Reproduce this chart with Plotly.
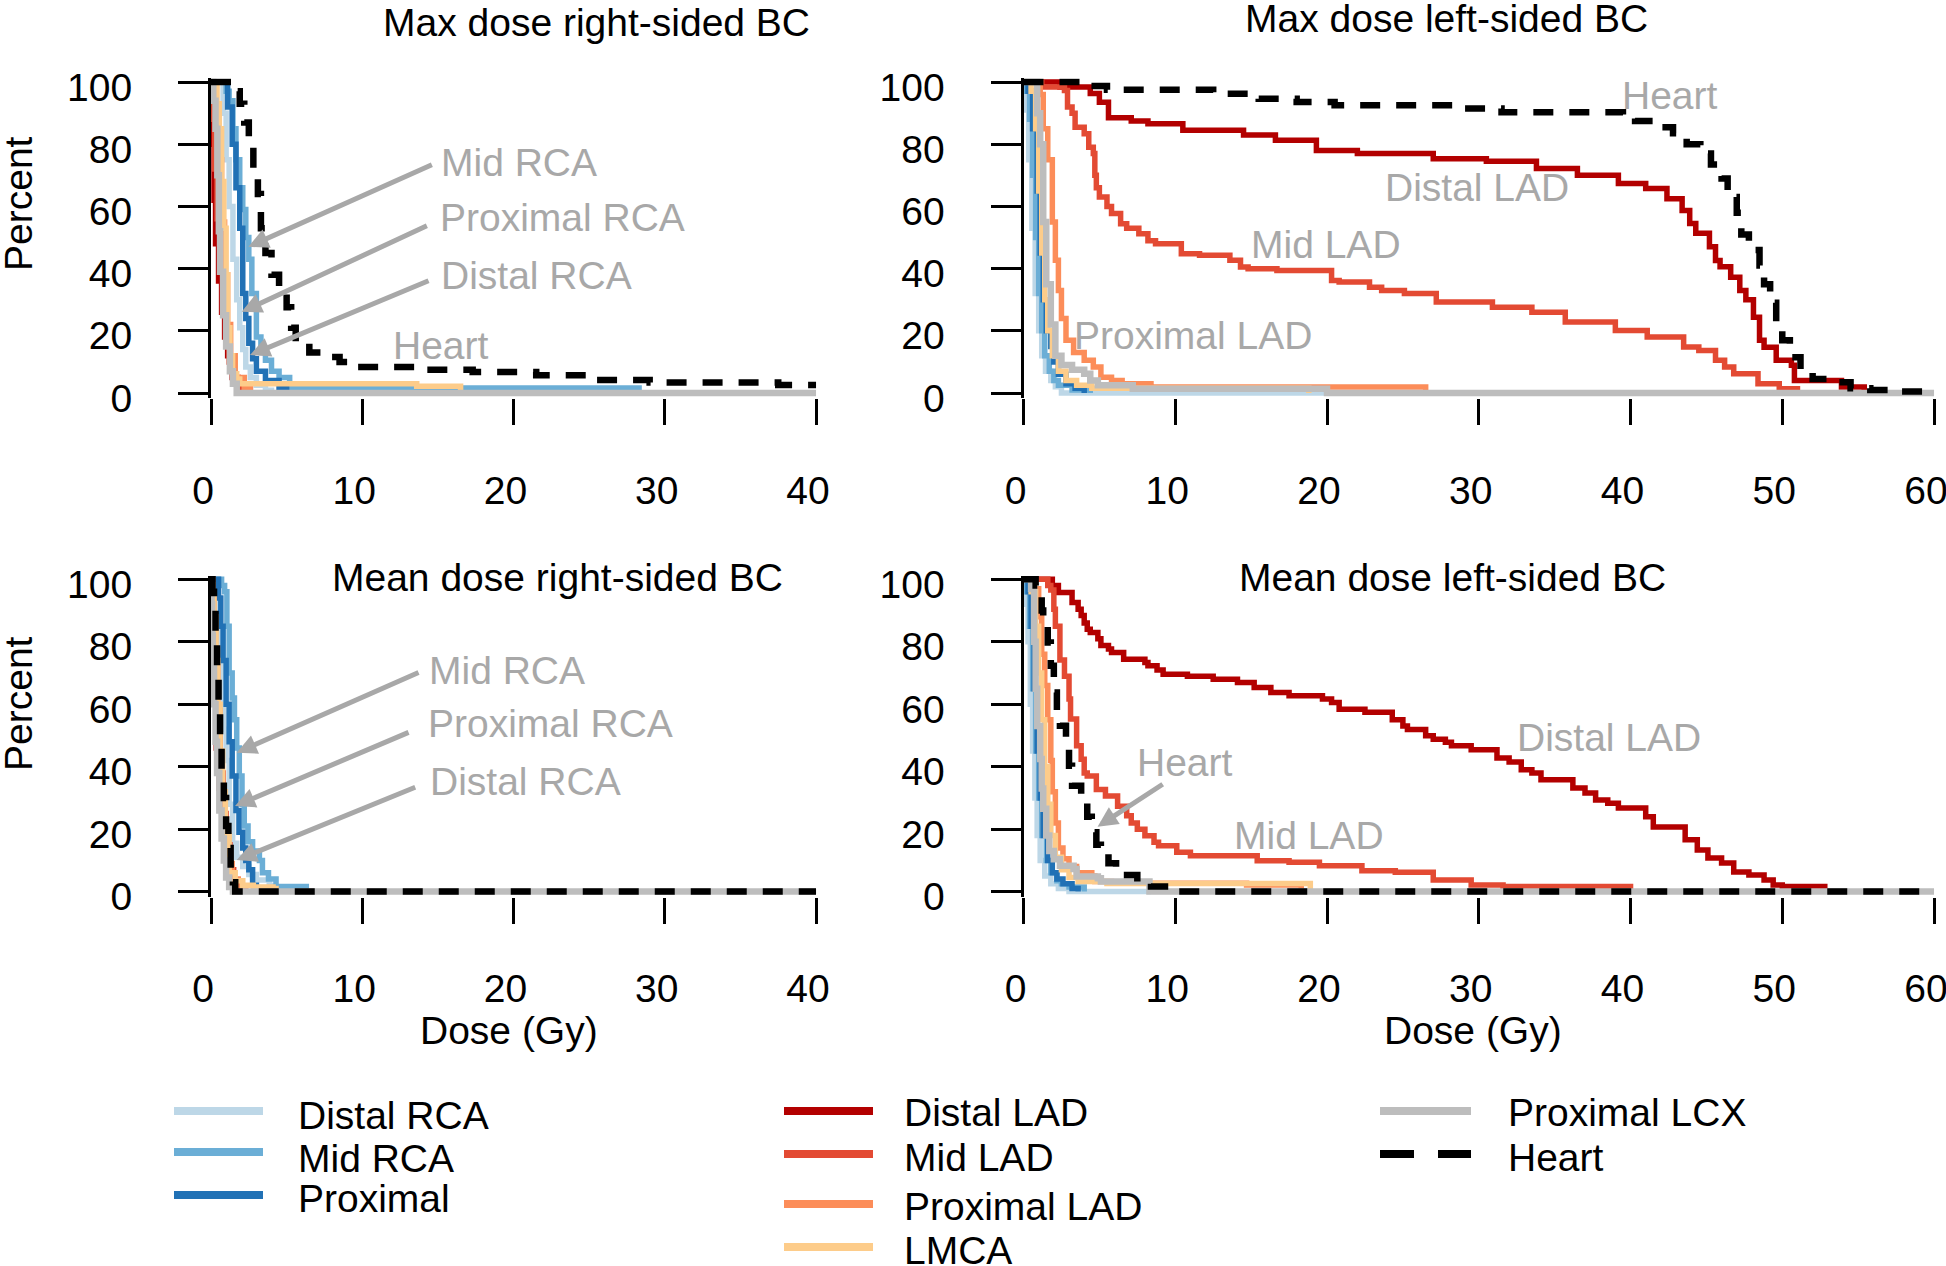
import plotly.graph_objects as go

# ---------------- data ----------------
SERIES = ["Distal RCA", "Mid RCA", "Proximal", "Distal LAD", "Mid LAD",
          "Proximal LAD", "LMCA", "Proximal LCX", "Heart"]
X_TICKS_RIGHT_BC = [0, 10, 20, 30, 40]
X_TICKS_LEFT_BC = [0, 10, 20, 30, 40, 50, 60]
Y_TICKS = [0, 20, 40, 60, 80, 100]

# --- Max dose, right-sided BC ---
maxR_distal_rca_x = [0, 0.5, 0.8, 1.0, 1.2, 1.45, 1.7, 1.9, 2.1, 2.3, 2.6, 3.0, 3.6, 4.0]
maxR_distal_rca_y = [100, 100, 90, 75, 60, 43, 30, 21, 14, 8.4, 5, 2.5, 0.9, 0]
maxR_mid_rca_x = [0, 0.7, 1.0, 1.2, 1.45, 1.65, 1.9, 2.1, 2.3, 2.5, 2.7, 3.0, 3.3, 3.6, 4.0, 4.5, 5.2, 28.3]
maxR_mid_rca_y = [100, 100, 97, 94, 85, 75, 66, 59, 50, 43, 32, 18, 13, 10.5, 7, 5, 1.6, 0]
maxR_proximal_x = [0, 0.9, 1.1, 1.4, 1.65, 1.9, 2.1, 2.3, 2.5, 2.75, 3.0, 3.6, 4.5, 5.0]
maxR_proximal_y = [100, 100, 92, 80, 66, 53, 32, 24, 16, 11, 7, 4, 1.4, 0]
maxR_distal_lad_x = [0.08, 0.12, 0.2, 0.3, 0.5, 0.7, 0.9, 1.1, 1.4, 1.8, 2.3, 2.6]
maxR_distal_lad_y = [96, 80, 62, 48, 36, 26, 18, 12, 5, 2.5, 1.4, 0]
maxR_mid_lad_x = [0, 0.1, 0.25, 0.4, 0.6, 0.8, 1.0, 1.2, 1.5, 1.9, 2.2]
maxR_mid_lad_y = [100, 88, 72, 56, 40, 28, 18, 10, 4, 1, 0]
maxR_proximal_lad_x = [0, 0.1, 0.3, 0.5, 0.7, 0.9, 1.1, 1.3, 1.6, 2.2, 2.6]
maxR_proximal_lad_y = [100, 96, 88, 75, 55, 38, 22, 12, 5, 1.5, 0]
maxR_lmca_x = [0, 0.2, 0.4, 0.55, 0.7, 0.85, 1.0, 1.1, 1.25, 1.43, 1.7, 1.9, 13.6, 16.5]
maxR_lmca_y = [100, 100, 93, 85, 68, 53, 38, 21, 12, 6.2, 4.5, 3, 2.2, 0]
maxR_prox_lcx_x = [0, 0.15, 0.3, 0.42, 0.52, 0.6, 0.8, 1.0, 1.25, 1.45, 1.7, 40]
maxR_prox_lcx_y = [100, 94, 85, 70, 52, 39, 25, 15, 7, 3, 0, 0]
maxR_heart_x = [0, 1.0, 1.4, 1.9, 2.2, 2.5, 2.8, 3.1, 3.3, 3.6, 4.0, 4.5, 5.0, 5.3, 5.6, 6.5, 7.4, 8.5,
                9.6, 13.5, 17.3, 21.5, 25, 29, 37.5, 40]
maxR_heart_y = [100, 100, 97, 93, 87, 80, 72, 64, 53, 45, 38, 33, 27.6, 21, 15.9, 13, 11.6, 10,
                8.4, 7.5, 6.8, 5.7, 4.2, 3.4, 2.6, 2.6]

# --- Max dose, left-sided BC ---
maxL_distal_rca_x = [0, 0.1, 0.2, 0.35, 0.55, 0.77, 1.0, 1.2, 1.45, 1.8, 2.1, 2.5, 20]
maxL_distal_rca_y = [100, 95, 91, 75, 53, 32, 20, 12, 7, 4, 2, 0, 0]
maxL_mid_rca_x = [0, 0.2, 0.4, 0.6, 0.8, 1.0, 1.2, 1.4, 1.7, 2.0, 2.3, 3.2, 4.4]
maxL_mid_rca_y = [100, 97, 88, 70, 50, 32, 20, 12, 7, 4, 2.5, 1, 0]
maxL_proximal_x = [0, 0.3, 0.6, 0.9, 1.1, 1.3, 1.5, 1.8, 2.0, 2.3, 2.8, 3.4, 4.0]
maxL_proximal_y = [100, 97, 85, 65, 45, 30, 20, 15, 10, 6, 3, 1.5, 0]
maxL_distal_lad_x = [0, 1.6, 2.4, 4.4, 5.0, 5.6, 7.1, 8.2, 10.5, 14.5, 16.6, 19.3, 22, 27, 30.5, 33.8,
                     36.5, 39.2, 41, 42.4, 43.4, 43.9, 44.3, 45.2, 45.6, 45.9, 46.6, 47.2, 47.6, 48.1,
                     48.5, 48.8, 49.6, 50.6, 50.8, 53.9, 55.4]
maxL_distal_lad_y = [100, 100, 98.4, 96.3, 93.5, 88.5, 87.5, 86.6, 84.5, 83, 81.3, 78, 77, 75.3, 74.5,
                     72.2, 70, 67.4, 65.8, 62.5, 58.7, 54.5, 51.4, 47, 42.6, 40.6, 37.2, 33, 30, 24.4,
                     17, 14.7, 10.5, 8.9, 4, 1.9, 0]
maxL_mid_lad_x = [0, 1.2, 2.7, 2.9, 3.2, 3.4, 4.0, 4.3, 4.6, 4.7, 4.8, 5.0, 5.5, 5.8, 6.4, 6.8, 7.6,
                  8.2, 8.7, 10.4, 11.6, 13.6, 14.3, 14.8, 16.7, 20.3, 20.8, 22.8, 23.6, 25.1, 27.2,
                  30.9, 33.5, 35.7, 39, 41.1, 43.5, 44.5, 45.6, 46.2, 46.8, 48.4, 49.8, 51]
maxL_mid_lad_y = [100, 98.4, 97.3, 92, 90, 85.5, 83.4, 79, 77, 70, 66, 63, 60, 57.7, 54.4, 53, 51.2,
                  49, 48, 44.8, 44.3, 42.7, 40.5, 40, 39.4, 36.2, 35.7, 34, 33, 32, 29.3,
                  27.6, 26, 22.8, 20.1, 18, 14.8, 13.7, 10.5, 8.4, 6.2, 3, 1.4, 0]
maxL_proximal_lad_x = [0, 0.8, 1.1, 1.3, 1.6, 1.9, 2.1, 2.3, 2.5, 2.8, 3.3, 4.0, 4.6, 5.1, 5.8, 6.5,
                       8.4, 26.5]
maxL_proximal_lad_y = [100, 100, 96, 85, 75, 55, 42.7, 33, 24, 17, 13, 10.5, 8.4, 5.1, 4, 3, 1.9, 0]
maxL_lmca_x = [0, 0.5, 0.8, 1.0, 1.2, 1.4, 1.6, 1.9, 2.3, 2.8, 3.5, 4.5, 18.8]
maxL_lmca_y = [100, 97, 85, 65, 45, 30, 20, 12, 7, 4, 2.5, 1.5, 0]
maxL_prox_lcx_x = [0, 0.6, 0.9, 1.1, 1.3, 1.5, 1.8, 2.1, 2.5, 3.2, 4.0, 4.4, 4.9, 7.2, 20, 60]
maxL_prox_lcx_y = [100, 100, 90, 80, 55, 35, 22, 12, 9, 7.5, 6.2, 4, 2.5, 1.4, 0, 0]
maxL_heart_x = [0, 4, 5.5, 12.5, 15.5, 18, 20.5, 29, 31.5, 39.5, 40.3, 41.7, 42.8, 43.7, 44.6, 45.3,
                46, 46.4, 47, 47.3, 47.8, 48.5, 48.8, 49.2, 49.6, 50, 50.5, 51.2, 52, 53.3, 54.5,
                55.8, 57.5, 60]
maxL_heart_y = [100, 98.7, 97.5, 96.2, 94.6, 93.6, 92.5, 91.5, 90.3, 89, 87.5, 85.5, 83.5, 80, 77, 73.5,
                69, 63, 58, 51, 46, 41, 35, 29, 23, 17, 11.5, 7, 4.5, 3.5, 1.5,
                1, 0.5, 0.3]

# --- Mean dose, right-sided BC ---
meanR_distal_rca_x = [0, 0.3, 0.45, 0.55, 0.7, 0.85, 1.0, 1.2, 1.43, 1.7, 2.1, 2.5, 3.0, 3.85, 4.2]
meanR_distal_rca_y = [100, 100, 88, 74, 62, 52, 42, 28, 15.5, 11, 8, 5.5, 3.7, 2, 0]
meanR_mid_rca_x = [0, 0.4, 0.7, 0.9, 1.05, 1.2, 1.4, 1.55, 1.7, 1.87, 2.05, 2.2, 2.45, 2.75, 3.2, 3.4,
                   3.8, 4.3, 6.3]
meanR_mid_rca_y = [100, 100, 98, 96, 85, 70, 62, 55, 46, 37, 28, 21, 16, 13, 10, 6,
                   4, 1.6, 0]
meanR_proximal_x = [0, 0.33, 0.5, 0.65, 0.8, 1.0, 1.2, 1.4, 1.65, 1.85, 2.1, 2.3, 2.5, 2.75, 3.0]
meanR_proximal_y = [100, 100, 94, 85, 74, 60, 48, 37, 26, 19, 14, 10, 7, 2, 0]
meanR_distal_lad_x = [0.06, 0.1, 0.2, 0.35, 0.55, 0.75, 0.95, 1.15, 1.4, 1.7, 2.0]
meanR_distal_lad_y = [86, 74, 60, 46, 33, 22, 13, 7, 3, 1, 0]
meanR_mid_lad_x = [0, 0.1, 0.25, 0.4, 0.6, 0.8, 1.0, 1.25, 1.5, 1.8]
meanR_mid_lad_y = [100, 85, 68, 52, 38, 25, 15, 7, 2, 0]
meanR_proximal_lad_x = [0, 0.1, 0.2, 0.3, 0.45, 0.6, 0.75, 0.9, 1.1, 1.4, 1.8, 2.3]
meanR_proximal_lad_y = [100, 95, 85, 72, 58, 44, 30, 18, 9, 4, 1.5, 0]
meanR_lmca_x = [0, 0.1, 0.2, 0.33, 0.45, 0.6, 0.77, 0.95, 1.2, 1.6, 2.1, 2.8, 4.1, 4.3]
meanR_lmca_y = [100, 96, 88, 74, 60, 45, 32, 18, 6, 3.5, 2, 1.5, 1, 0]
meanR_prox_lcx_x = [0, 0.04, 0.08, 0.12, 0.2, 0.3, 0.4, 0.55, 0.7, 0.85, 1.0, 1.2, 1.45, 40]
meanR_prox_lcx_y = [100, 92, 82, 72, 60, 48, 38, 26, 17, 10, 4.5, 1.5, 0, 0]
meanR_heart_x = [0, 0.1, 0.2, 0.3, 0.4, 0.5, 0.6, 0.7, 0.85, 1.0, 1.15, 1.3, 1.45, 1.6, 40]
meanR_heart_y = [100, 96, 90, 80, 68, 58, 47, 39, 30, 21, 14, 7, 3, 0, 0]

# --- Mean dose, left-sided BC ---
meanL_distal_rca_x = [0, 0.15, 0.3, 0.45, 0.6, 0.75, 0.9, 1.1, 1.4, 1.8, 2.3, 3.0, 8.4]
meanL_distal_rca_y = [100, 92, 80, 60, 45, 30, 18, 10, 5, 2.5, 1, 0, 0]
meanL_mid_rca_x = [0, 0.2, 0.4, 0.6, 0.8, 1.0, 1.2, 1.5, 1.8, 2.2, 2.5, 3.0, 4.0]
meanL_mid_rca_y = [100, 96, 85, 65, 45, 30, 18, 10, 6, 3.5, 2.5, 1.5, 0]
meanL_proximal_x = [0, 0.3, 0.5, 0.7, 0.9, 1.1, 1.3, 1.6, 1.9, 2.2, 2.6, 3.2, 3.6]
meanL_proximal_y = [100, 96, 85, 65, 45, 30, 18, 10, 6, 4, 2.5, 1, 0]
meanL_distal_lad_x = [0, 1.9, 2.3, 3.2, 3.6, 3.8, 4.0, 4.2, 4.4, 4.9, 5.1, 5.6, 5.8, 6.6, 8.0, 8.2,
                      8.8, 9.2, 10.8, 12.5, 14.1, 15.2, 16.3, 17.5, 19.7, 20.3, 20.8, 22.5, 24.3,
                      25, 25.3, 26.5, 27, 27.8, 28.2, 29.5, 31.2, 32, 32.8, 33.5, 34.1, 36.2, 37,
                      37.7, 38.5, 39.2, 41, 41.5, 43.6, 44.4, 45.1, 46, 46.8, 47.8, 48.8, 49.4,
                      50, 52.8]
meanL_distal_lad_y = [100, 98, 95.8, 92.6, 90.4, 88.4, 86, 84, 83, 81, 78.8, 77.7, 76.6, 74.4, 73.4,
                      72.3, 71, 69.6, 69, 68, 67, 65.4, 63.8, 62.7, 61.7, 60.6, 58.4, 57.4, 55,
                      53, 51.9, 49.9, 48.8, 47.8, 46.7, 45.4, 42.8, 41.5, 39, 38, 35.8, 33.2, 31.6,
                      29.3, 28.3, 26.8, 24, 20.7, 16.6, 13.3, 10.8, 9.2, 6.3, 5.3, 3.7, 2.1,
                      1.6, 0]
meanL_mid_lad_x = [0, 1.6, 1.8, 2.0, 2.1, 2.4, 2.7, 3.0, 3.1, 3.5, 3.8, 4.0, 4.2, 4.8, 5.4, 6.2,
                   6.8, 7.1, 7.5, 8.0, 8.6, 8.9, 10.1, 11, 15.4, 17.5, 19.5, 22.3, 24.5, 27, 29.5,
                   31.6, 40]
meanL_mid_lad_y = [100, 98, 96.6, 90.4, 85, 74.2, 69, 61.7, 55.3, 46.7, 42.4, 38, 37, 32.7, 30.6,
                   27.3, 24.3, 22, 20, 17.9, 15.8, 14.7, 12.6, 11.5, 9.9, 9.4, 8.3, 6.7, 6.2, 3.7,
                   2.1, 1.6, 0]
meanL_proximal_lad_x = [0, 0.7, 1.0, 1.2, 1.4, 1.6, 1.8, 1.9, 2.1, 2.3, 2.6, 3.0, 3.5, 4.5, 4.7,
                        5.8, 14.7, 18.3]
meanL_proximal_lad_y = [100, 97, 88, 76, 66, 55, 42, 32, 22, 14, 10.5, 8, 6, 5, 3.2, 2.7, 2.1, 0]
meanL_lmca_x = [0, 0.5, 0.8, 1.0, 1.2, 1.4, 1.6, 1.8, 2.1, 2.5, 3.0, 3.6, 5.5, 18.9]
meanL_lmca_y = [100, 96, 85, 70, 55, 40, 28, 18, 11, 7, 4.5, 3.2, 2.6, 0]
meanL_prox_lcx_x = [0, 0.5, 0.7, 0.8, 0.9, 1.1, 1.2, 1.3, 1.5, 1.7, 2.0, 2.4, 3.3, 3.5, 4.9,
                    5.1, 8.3, 60]
meanL_prox_lcx_y = [100, 97, 80, 65, 53, 42.5, 33, 26.5, 18, 13, 10.4, 8.3, 7.2, 4.8, 4.3,
                    3.2, 0, 0]
meanL_heart_x = [0, 0.8, 1.0, 1.2, 1.3, 1.6, 1.8, 2.0, 2.2, 2.4, 2.8, 3.0, 3.2, 3.8, 4.2, 4.5, 4.8,
                 5.1, 5.6, 6.1, 6.4, 7.5, 8.4, 9.7, 60]
meanL_heart_y = [100, 98, 96.6, 90, 87, 79.8, 72.3, 63.8, 56.3, 53.1, 46.7, 40.3, 33.9, 28.3, 24, 19,
                 15, 12.2, 9.1, 6.5, 5.3, 3, 1.6, 0, 0]

# ---------------- styles ----------------
FONT = "Liberation Sans, Arial, Helvetica, sans-serif"
FS = 39
GRAY_TXT = "#A8A8A8"
COLORS = {
    "Distal RCA": "#BDD7E7", "Mid RCA": "#6BAED6", "Proximal": "#2171B5",
    "Distal LAD": "#B30000", "Mid LAD": "#E34A33", "Proximal LAD": "#FC8D59",
    "LMCA": "#FDCC8A", "Proximal LCX": "#BDBDBD", "Heart": "#000000",
}
HEART_DASH = "20px,16px"
W, H = 1946, 1266


def px(x):
    return x / W


def py(y):
    return 1 - y / H


panels = [
    ("x", "y", [
        (maxR_distal_rca_x, maxR_distal_rca_y), (maxR_mid_rca_x, maxR_mid_rca_y),
        (maxR_proximal_x, maxR_proximal_y), (maxR_distal_lad_x, maxR_distal_lad_y),
        (maxR_mid_lad_x, maxR_mid_lad_y), (maxR_proximal_lad_x, maxR_proximal_lad_y),
        (maxR_lmca_x, maxR_lmca_y), (maxR_prox_lcx_x, maxR_prox_lcx_y), (maxR_heart_x, maxR_heart_y)]),
    ("x2", "y2", [
        (maxL_distal_rca_x, maxL_distal_rca_y), (maxL_mid_rca_x, maxL_mid_rca_y),
        (maxL_proximal_x, maxL_proximal_y), (maxL_distal_lad_x, maxL_distal_lad_y),
        (maxL_mid_lad_x, maxL_mid_lad_y), (maxL_proximal_lad_x, maxL_proximal_lad_y),
        (maxL_lmca_x, maxL_lmca_y), (maxL_prox_lcx_x, maxL_prox_lcx_y), (maxL_heart_x, maxL_heart_y)]),
    ("x3", "y3", [
        (meanR_distal_rca_x, meanR_distal_rca_y), (meanR_mid_rca_x, meanR_mid_rca_y),
        (meanR_proximal_x, meanR_proximal_y), (meanR_distal_lad_x, meanR_distal_lad_y),
        (meanR_mid_lad_x, meanR_mid_lad_y), (meanR_proximal_lad_x, meanR_proximal_lad_y),
        (meanR_lmca_x, meanR_lmca_y), (meanR_prox_lcx_x, meanR_prox_lcx_y), (meanR_heart_x, meanR_heart_y)]),
    ("x4", "y4", [
        (meanL_distal_rca_x, meanL_distal_rca_y), (meanL_mid_rca_x, meanL_mid_rca_y),
        (meanL_proximal_x, meanL_proximal_y), (meanL_distal_lad_x, meanL_distal_lad_y),
        (meanL_mid_lad_x, meanL_mid_lad_y), (meanL_proximal_lad_x, meanL_proximal_lad_y),
        (meanL_lmca_x, meanL_lmca_y), (meanL_prox_lcx_x, meanL_prox_lcx_y), (meanL_heart_x, meanL_heart_y)]),
]

fig = go.Figure()
for xa, ya, curves in panels:
    for name, (xs, ys) in zip(SERIES, curves):
        if name == "Heart":
            line = dict(color=COLORS[name], width=6.5, dash=HEART_DASH, shape="hv")
        elif name == "Proximal LCX":
            line = dict(color=COLORS[name], width=6.5, shape="hv")
        else:
            line = dict(color=COLORS[name], width=5.5, shape="hv")
        fig.add_trace(go.Scatter(x=xs, y=ys, mode="lines", name=name, line=line,
                                 xaxis=xa, yaxis=ya, showlegend=False, hoverinfo="skip"))

# ---------------- axes ----------------
XL_DOM = [px(211), px(816.8)]
XR_DOM = [px(1023.5), px(1934.8)]
YT_DOM = [py(398.0), py(78.3)]
YB_DOM = [py(896.6), py(575.6)]
YRANGE = [-1.6, 101.2]

tickfont = dict(family=FONT, size=FS, color="black")


def xax(dom, rng, vals, anchor):
    return dict(domain=dom, range=rng, anchor=anchor, tickvals=vals, ticks="outside",
                ticklen=26, tickwidth=3, tickcolor="black", showline=False, showgrid=False,
                zeroline=False, tickfont=tickfont, ticklabelstandoff=32, ticklabelshift=-8,
                fixedrange=True, automargin=False, ticklabeloverflow="allow")


def yax(dom, anchor):
    return dict(domain=dom, range=YRANGE, anchor=anchor, tickvals=Y_TICKS, ticks="outside",
                ticklen=30, tickwidth=3, tickcolor="black", showline=True, linewidth=3,
                linecolor="black", showgrid=False, zeroline=False, tickfont=tickfont,
                ticklabelstandoff=38, ticklabelshift=5, fixedrange=True, automargin=False,
                ticklabeloverflow="allow")


fig.update_layout(
    template="none",
    width=W, height=H, margin=dict(l=0, r=0, t=0, b=0, pad=0, autoexpand=False),
    paper_bgcolor="white", plot_bgcolor="white", showlegend=False,
    font=dict(family=FONT, size=FS, color="black"),
    xaxis=xax(XL_DOM, [0, 40.05], X_TICKS_RIGHT_BC, "y"),
    yaxis=yax(YT_DOM, "x"),
    xaxis2=xax(XR_DOM, [0, 60.05], X_TICKS_LEFT_BC, "y2"),
    yaxis2=yax(YT_DOM, "x2"),
    xaxis3=xax(XL_DOM, [0, 40.05], X_TICKS_RIGHT_BC, "y3"),
    yaxis3=yax(YB_DOM, "x3"),
    xaxis4=xax(XR_DOM, [0, 60.05], X_TICKS_LEFT_BC, "y4"),
    yaxis4=yax(YB_DOM, "x4"),
)

ann = []


def paper_text(text, x, y, angle=0, color="black"):
    ann.append(dict(text=text, x=px(x), y=py(y), xref="paper", yref="paper", showarrow=False,
                    xanchor="center", yanchor="middle", textangle=angle,
                    font=dict(family=FONT, size=FS, color=color)))


paper_text("Max dose right-sided BC", 596, 23)
paper_text("Max dose left-sided BC", 1446, 19)
paper_text("Mean dose right-sided BC", 557, 577)
paper_text("Mean dose left-sided BC", 1452, 577)
paper_text("Dose (Gy)", 509, 1030)
paper_text("Dose (Gy)", 1473, 1030)
paper_text("Percent", 18, 204, angle=-90)
paper_text("Percent", 18, 704, angle=-90)


def data_text(text, x, y, xa, ya, anchor="center"):
    ann.append(dict(text=text, x=x, y=y, xref=xa, yref=ya, showarrow=False,
                    xanchor=anchor, yanchor="middle",
                    font=dict(family=FONT, size=FS, color=GRAY_TXT)))


def arrow(hx, hy, tx, ty, xa, ya):
    ann.append(dict(text="", x=hx, y=hy, xref=xa, yref=ya, ax=tx, ay=ty, axref=xa, ayref=ya,
                    showarrow=True, arrowhead=2, arrowsize=0.8, arrowwidth=5,
                    arrowcolor=GRAY_TXT, standoff=0, startstandoff=0))


# top-left
data_text("Mid RCA", 15.1, 74.1, "x", "y", "left")
arrow(2.47, 47.0, 14.7, 73.6, "x", "y")
data_text("Proximal RCA", 15.0, 56.5, "x", "y", "left")
arrow(2.03, 26.1, 14.37, 54.0, "x", "y")
data_text("Distal RCA", 15.1, 37.7, "x", "y", "left")
arrow(2.58, 12.2, 14.48, 36.3, "x", "y")
data_text("Heart", 15.19, 15.4, "x", "y")
# top-right
data_text("Heart", 42.6, 95.7, "x2", "y2")
data_text("Distal LAD", 29.9, 66.2, "x2", "y2")
data_text("Mid LAD", 19.9, 47.8, "x2", "y2")
data_text("Proximal LAD", 11.2, 18.5, "x2", "y2")
# bottom-left
data_text("Mid RCA", 14.3, 70.9, "x3", "y3", "left")
arrow(1.70, 44.5, 13.82, 70.4, "x3", "y3")
data_text("Proximal RCA", 14.2, 53.9, "x3", "y3", "left")
arrow(1.59, 27.4, 13.16, 51.2, "x3", "y3")
data_text("Distal RCA", 14.37, 35.2, "x3", "y3", "left")
arrow(1.70, 10.1, 13.6, 33.6, "x3", "y3")
# bottom-right
data_text("Heart", 10.66, 41.4, "x4", "y4")
arrow(4.88, 20.8, 9.27, 34.7, "x4", "y4")
data_text("Mid LAD", 18.78, 17.9, "x4", "y4")
data_text("Distal LAD", 38.6, 49.5, "x4", "y4")

# ---------------- legend (drawn manually, 3 columns) ----------------
legend_cols = [
    (174, 263, 296, [("Distal RCA", 1111, 1115), ("Mid RCA", 1152, 1158), ("Proximal", 1195, 1198)]),
    (784, 873, 902, [("Distal LAD", 1111, 1112), ("Mid LAD", 1154, 1157),
                     ("Proximal LAD", 1204, 1206), ("LMCA", 1247, 1250)]),
    (1380, 1471, 1506, [("Proximal LCX", 1111, 1112), ("Heart", 1154, 1157)]),
]
shapes = []
for x0, x1, tx, rows in legend_cols:
    for name, ly, ty in rows:
        ln = dict(color=COLORS[name], width=8)
        if name == "Heart":
            ln["dash"] = "34px,24px"
        shapes.append(dict(type="line", xref="paper", yref="paper", x0=px(x0), x1=px(x1),
                           y0=py(ly), y1=py(ly), line=ln))
        ann.append(dict(text=name, x=px(tx), y=py(ty), xref="paper", yref="paper",
                        showarrow=False, xanchor="left", yanchor="middle",
                        font=dict(family=FONT, size=FS, color="black")))

fig.update_layout(annotations=ann, shapes=shapes)
fig.write_html("out.html", config={"displayModeBar": False},
               post_script="document.body.style.margin='0';document.body.style.overflow='hidden';")
